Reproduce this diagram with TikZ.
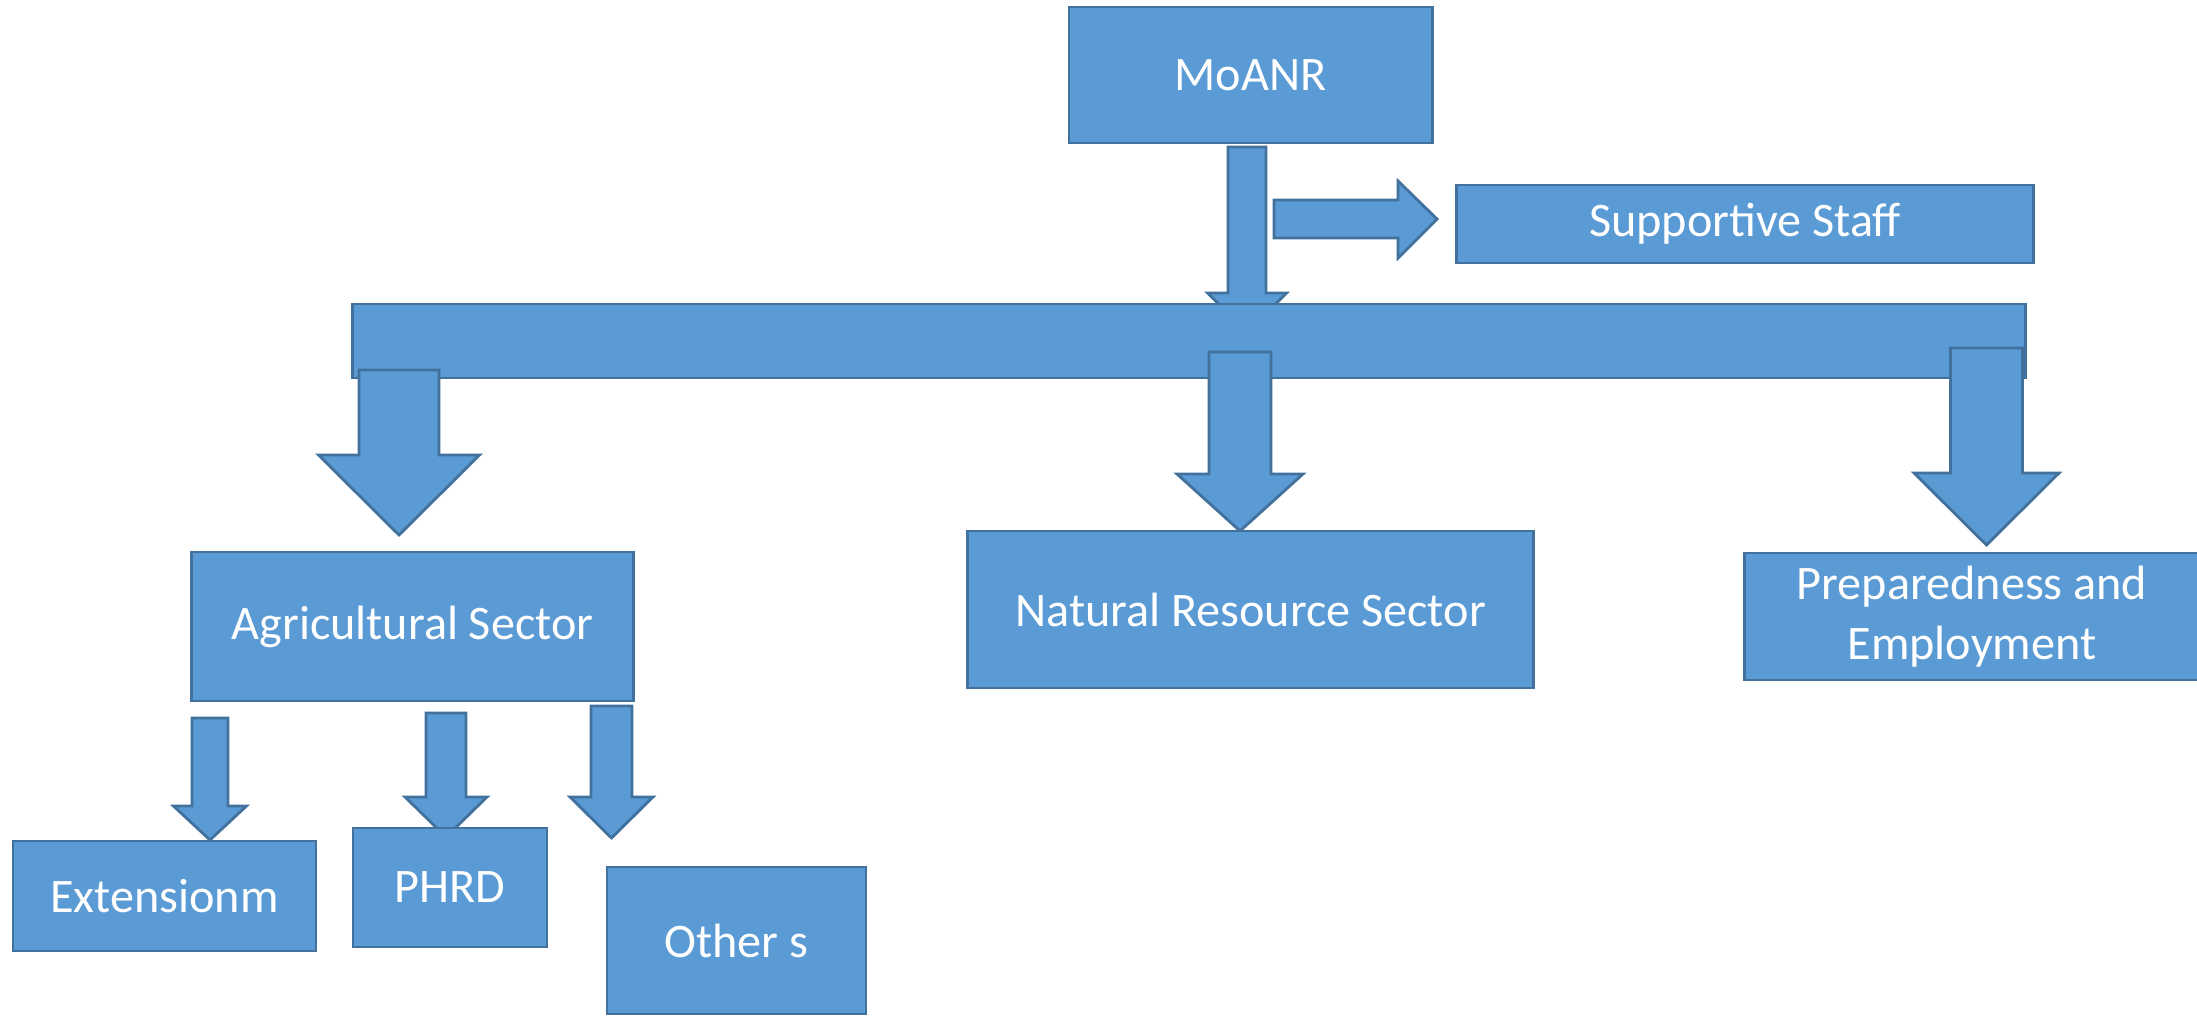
\documentclass[tikz,border=0pt]{standalone}
\usepackage{fontspec}
\setmainfont{Carlito}
\usetikzlibrary{positioning}
\definecolor{unitfill}{HTML}{5B9BD5}
\definecolor{unitline}{HTML}{41719C}
\tikzset{%
	unit/.style     = {draw=unitline, fill=unitfill, line width=0.8pt, rectangle, text=white, align=center, inner sep=0pt, font=\fontsize{13.7}{17}\selectfont},
	fatarrow/.style = {draw=unitline, fill=unitfill, line width=0.8pt, line join=miter},
}
% fat arrow pointing down: x, top, half shaft, half head, shoulder, tip
\newcommand{\fatdown}[6]{%
	\draw[fatarrow] (#1-#3,#2) -- (#1+#3,#2) -- (#1+#3,#5) -- (#1+#4,#5) -- (#1,#6) -- (#1-#4,#5) -- (#1-#3,#5) -- cycle;}

\begin{document}
\begin{tikzpicture}[x=0.01cm, y=-0.01cm]
	\useasboundingbox (0,0) rectangle (2197,1016);
	
	\node[unit, minimum width=3.63cm, minimum height=1.36cm] (moanr) at (1250.5,75) {MoANR};
	\node[unit, minimum width=5.76cm, minimum height=0.78cm] (staff) at (1745,224) {Supportive Staff};
	
	% head of this one sits under the bar
	\fatdown{1247}{147}{19}{39.5}{293}{332.5}
	\draw[fatarrow] (1274,200) -- (1398,200) -- (1398,181) -- (1437,219) -- (1398,258) -- (1398,238) -- (1274,238) -- cycle;
	
	\node[unit, minimum width=16.72cm, minimum height=0.74cm] (bar) at (1189,341) {};
	
	\fatdown{399}{370}{40}{80.5}{455}{535}
	\fatdown{1240}{352}{31}{63}{474}{531}
	\fatdown{1986.5}{348}{36}{72.5}{473}{545}
	
	\node[unit, minimum width=4.41cm, minimum height=1.49cm] (agri) at (412.5,626.5) {Agricultural Sector};
	\node[unit, minimum width=5.65cm, minimum height=1.57cm] (nrs) at (1250.5,609.5) {Natural Resource Sector};
	\node[unit, minimum width=4.54cm, minimum height=1.27cm] (prep) at (1972,616.5) {Preparedness and\\Employment};
	
	\fatdown{210}{718}{18}{36.5}{806}{840}
	\fatdown{446}{713}{20}{41}{797}{837}
	\fatdown{611.5}{706}{20.5}{41.5}{797}{838}
	
	\node[unit, minimum width=3.03cm, minimum height=1.10cm] (ext) at (164.5,896) {Extensionm};
	\node[unit, minimum width=1.94cm, minimum height=1.19cm] (phrd) at (450,887.5) {PHRD};
	\node[unit, minimum width=2.59cm, minimum height=1.47cm] (others) at (736.5,940.5) {Other s};
\end{tikzpicture}
\end{document}
